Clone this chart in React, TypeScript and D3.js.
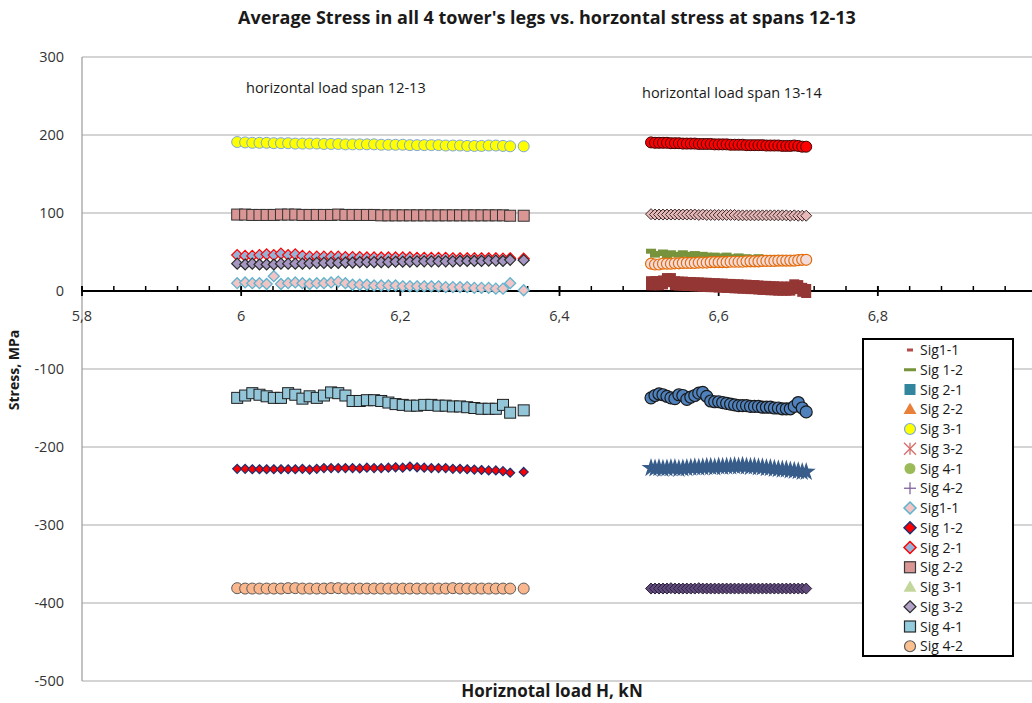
import React from "react";
import * as d3 from "d3";

// x values (horizontal load H, kN) for the two load cases
const xSpan1213 = [
  5.995, 6.005, 6.014, 6.023, 6.032, 6.041, 6.05, 6.059, 6.068, 6.077,
  6.086, 6.095, 6.104, 6.113, 6.122, 6.131, 6.14, 6.149, 6.158, 6.167,
  6.176, 6.185, 6.194, 6.203, 6.212, 6.221, 6.23, 6.239, 6.248, 6.257,
  6.266, 6.275, 6.284, 6.293, 6.302, 6.311, 6.32, 6.329, 6.338, 6.355,
];
const xSpan1314 = [
  6.515, 6.52, 6.525, 6.53, 6.535, 6.54, 6.545, 6.55, 6.555, 6.56,
  6.565, 6.57, 6.575, 6.58, 6.585, 6.59, 6.595, 6.6, 6.605, 6.61,
  6.615, 6.62, 6.625, 6.63, 6.635, 6.64, 6.645, 6.65, 6.655, 6.66,
  6.665, 6.67, 6.675, 6.68, 6.685, 6.69, 6.695, 6.7, 6.705, 6.71,
];

// span 12-13 series (MPa)
const leftCircles190 = [
  191, 190.5, 190, 190, 190, 189.5, 189.5, 189.5, 189, 189,
  189, 189, 188.5, 188.5, 188.5, 188, 188, 188, 188, 188,
  187.5, 187.5, 187.5, 187.5, 187, 187, 187, 187, 187, 186.5,
  186.5, 186.5, 186, 186, 186, 186.5, 186.5, 186, 185.5, 185.5,
];
const leftSquares98 = [
  98, 98, 97.5, 97.5, 97.5, 97.5, 98, 98, 98, 97.5,
  97.5, 97.5, 97.5, 97.5, 98, 97.5, 97.5, 97.5, 97.5, 97.5,
  97, 97, 97, 97, 97, 97, 97, 97, 97, 97,
  97, 97, 97, 97, 97, 97, 97, 97, 96.5, 96.5,
];
const leftDiamonds45 = [
  46, 45, 45, 46, 47, 46, 48, 46, 47, 45,
  44, 44, 44, 44, 44, 43.5, 43.5, 43.5, 43, 43,
  43, 43, 43, 43, 43, 42.5, 42.5, 42.5, 42.5, 42.5,
  42, 42, 42, 42, 42, 42, 42, 41.5, 42, 41.5,
];
const leftDiamonds37 = [
  35, 34, 35, 34, 34, 34, 35, 35, 35, 35,
  35.5, 36, 36, 36, 36, 36.5, 36.5, 37, 37, 37,
  37, 37, 37.5, 37.5, 37.5, 38, 38, 38, 38, 38,
  38, 38.5, 38.5, 38.5, 38.5, 39, 39, 38.5, 40, 39.5,
];
const leftDiamonds8 = [
  10, 11, 10, 10, 9, 19, 9, 10, 11, 10,
  9, 10, 10, 11, 12, 10, 8, 8, 8, 7,
  7, 7, 7, 6, 6, 6, 6, 6, 6, 5,
  5, 5, 5, 4, 4, 4, 3, 3, 10, 1,
];
const leftSquares140 = [
  -137, -134, -131, -133, -135, -137, -137, -131, -133, -138,
  -135, -137, -134, -130, -131, -134, -141, -141, -140, -140,
  -141, -143, -145, -146, -147, -147, -146, -146, -147, -147,
  -148, -148, -149, -150, -151, -151, -151, -146, -156, -153,
];
const leftDiamonds228 = [
  -228, -228, -228.5, -228.5, -228.5, -228.5, -228.5, -228.5, -228.5, -228,
  -229, -228, -227, -227, -227, -227, -227, -227.5, -226.5, -227,
  -227, -226.5, -226, -226.5, -225, -226, -226.5, -227, -227, -227,
  -228, -228, -228.5, -229, -229.5, -230, -230, -231, -233, -232,
];
const leftCircles381 = [
  -381, -381.5, -381.5, -381.5, -381.5, -381.5, -381.5, -381, -381, -381.5,
  -381.5, -381.5, -381.5, -381, -381, -381.5, -381.5, -381.5, -381.5, -381.5,
  -381.5, -381.5, -381.5, -381.5, -381.5, -381.5, -381.5, -381.5, -381.5, -381.5,
  -381, -381.5, -381.5, -381.5, -381.5, -381.5, -381.5, -381.5, -381.5, -381.5,
];

// span 13-14 series (MPa)
const rightCircles190 = [
  190.5, 190, 190, 190, 190, 189.5, 189.5, 189.5, 189, 189,
  189, 189, 188.5, 188.5, 188.5, 188.5, 188, 188, 188, 188,
  187.5, 187.5, 187.5, 187.5, 187, 187, 187, 187, 187, 186.5,
  186.5, 186.5, 186.5, 186, 186, 186, 186.5, 186, 185, 185,
];
const rightDiamonds98 = [
  98.5, 98, 98, 98, 98, 98, 98, 98, 98, 98,
  98, 98, 97.5, 98, 97.5, 97.5, 97.5, 97.5, 97.5, 97.5,
  97.5, 97.5, 97, 97, 97, 97, 97, 97, 97, 97,
  97, 97, 97, 97, 97, 96.5, 97, 96.5, 96.5, 96.5,
];
const rightDash45 = [
  51, 46, 48, 50, 45, 49, 47, 46, 49, 47,
  46, 48, 45, 47, 46, 44, 46, 45, 44, 46,
  44, 43, 45, 43, 44, 43, 42, 44, 42, 43,
  42, 43, 43, 42, 41, 42, 41, 42, 41, 40,
];
const rightCircles37 = [
  35, 34, 34, 35, 35, 35, 35.5, 35.5, 36, 36,
  36, 36, 36.5, 36.5, 36.5, 37, 37, 37, 37, 37,
  37.5, 37.5, 37.5, 37.5, 38, 38, 38, 38, 38.5, 38.5,
  38.5, 38.5, 39, 39, 39, 39, 39, 39.5, 40, 40,
];
const rightBars6 = [
  10, 10, 10, 11, 14, 14, 10, 9.5, 9.5, 9,
  9, 8.5, 8.5, 8, 8, 7.5, 7.5, 7, 7, 6.5,
  6.5, 6, 6, 5.5, 5.5, 5, 5, 4.5, 4, 4,
  3.5, 3.5, 3, 3, 3, 3, 6, 5, 1.5, 0,
];
const rightCircles145 = [
  -137, -134, -132, -133, -135, -137, -138, -133, -134, -139,
  -136, -134, -131, -130, -135, -141, -142, -142, -143, -144,
  -145, -146, -147, -147, -147, -148, -148, -148, -149, -149,
  -149, -150, -150, -151, -151, -151, -148, -143, -150, -155,
];
const rightStars228 = [
  -227, -227.5, -227, -228, -227.5, -227, -227, -228, -227.5, -227,
  -226.5, -226, -226.5, -226, -225.5, -225.5, -226, -225, -225.5, -225,
  -225, -224.5, -225, -224, -225, -225.5, -225, -226, -226, -227,
  -227, -228, -228.5, -229, -229, -230, -230.5, -231, -232, -232,
];
const rightDiamonds381 = [
  -381.5, -381.5, -381.5, -381.5, -381.5, -381, -381.5, -381.5, -381.5, -381.5,
  -381.5, -381.5, -381, -381.5, -381.5, -381.5, -381.5, -381.5, -381.5, -381.5,
  -381.5, -381.5, -381.5, -381.5, -381.5, -381.5, -381.5, -381.5, -381.5, -381.5,
  -381.5, -381.5, -381.5, -381.5, -381.5, -381.5, -381.5, -381.5, -381.5, -381.5,
];

const legendNames = [
  "Sig1-1", "Sig 1-2", "Sig 2-1", "Sig 2-2", "Sig 3-1", "Sig 3-2", "Sig 4-1", "Sig 4-2",
  "Sig1-1", "Sig 1-2", "Sig 2-1", "Sig 2-2", "Sig 3-1", "Sig 3-2", "Sig 4-1", "Sig 4-2",
];

const FONT = "'Open Sans', 'Noto Sans', sans-serif";

type Style = {
  type: string;
  size: number;
  fill: string;
  stroke?: string;
  sw?: number;
  h?: number;
};

// marker looks
const legendStyles: Style[] = [
  { type: "dash", size: 6, h: 3, fill: "#b54a48" },
  { type: "dash", size: 12, h: 3, fill: "#77933c" },
  { type: "square", size: 11, fill: "#31859c" },
  { type: "triangle", size: 12, fill: "#e8803a" },
  { type: "circle", size: 11, fill: "#ffff00", stroke: "#7da7d9", sw: 1.2 },
  { type: "asterisk", size: 12, fill: "none", stroke: "#d46a68", sw: 1.3 },
  { type: "circle", size: 11, fill: "#9bbb59" },
  { type: "plus", size: 12, fill: "none", stroke: "#8064a2", sw: 1.3 },
  { type: "diamond", size: 12, fill: "#f2c4c4", stroke: "#5fb3cf", sw: 1.5 },
  { type: "diamond", size: 12, fill: "#ff0000", stroke: "#1f2f6e", sw: 1.5 },
  { type: "diamond", size: 12, fill: "#95b3d7", stroke: "#ff0000", sw: 1.5 },
  { type: "square", size: 11, fill: "#d99694", stroke: "#3a3a3a", sw: 1.2 },
  { type: "triangle", size: 12, fill: "#c3d69b" },
  { type: "diamond", size: 12, fill: "#b3a2c7", stroke: "#2b2b2b", sw: 1.2 },
  { type: "square", size: 11, fill: "#93cddd", stroke: "#2b2b2b", sw: 1.2 },
  { type: "circle", size: 11, fill: "#fac090", stroke: "#595959", sw: 1.2 },
];

type Series = { xs: number[]; ys: number[]; style: Style };

const plotted: Series[] = [
  { xs: xSpan1213, ys: leftDiamonds8, style: { type: "diamond", size: 11, fill: "#f2c4c4", stroke: "#5fb3cf", sw: 1.3 } },
  { xs: xSpan1213, ys: leftDiamonds228, style: { type: "diamond", size: 9, fill: "#ff0000", stroke: "#1f2f6e", sw: 1.2 } },
  { xs: xSpan1213, ys: leftDiamonds45, style: { type: "diamond", size: 11, fill: "#95b3d7", stroke: "#ff0000", sw: 1.2 } },
  { xs: xSpan1213, ys: leftSquares98, style: { type: "square", size: 11, fill: "#d99694", stroke: "#333333", sw: 1 } },
  { xs: xSpan1213, ys: leftDiamonds37, style: { type: "diamond", size: 11, fill: "#a597c2", stroke: "#2b2b2b", sw: 1.2 } },
  { xs: xSpan1213, ys: leftSquares140, style: { type: "square", size: 11, fill: "#93c5d8", stroke: "#1f1f1f", sw: 1 } },
  { xs: xSpan1213, ys: leftCircles381, style: { type: "circle", size: 11, fill: "#fab68c", stroke: "#595959", sw: 1 } },
  { xs: xSpan1213, ys: leftCircles190, style: { type: "circle", size: 11, fill: "#ffff00", stroke: "#7da7d9", sw: 1 } },
  { xs: xSpan1314, ys: rightBars6, style: { type: "dash", size: 10, h: 14, fill: "#943634" } },
  { xs: xSpan1314, ys: rightDash45, style: { type: "dash", size: 10, h: 5, fill: "#77933c" } },
  { xs: xSpan1314, ys: rightCircles37, style: { type: "circle", size: 11, fill: "#f2dcdb", stroke: "#e46c0a", sw: 1.2 } },
  { xs: xSpan1314, ys: rightDiamonds98, style: { type: "diamond", size: 11, fill: "#e6b9b8", stroke: "#3d2b2b", sw: 1 } },
  { xs: xSpan1314, ys: rightCircles190, style: { type: "circle", size: 11, fill: "#ff0000", stroke: "#400000", sw: 1 } },
  { xs: xSpan1314, ys: rightCircles145, style: { type: "circle", size: 12, fill: "#4f81bd", stroke: "#1a1a1a", sw: 1.2 } },
  { xs: xSpan1314, ys: rightStars228, style: { type: "star", size: 12, fill: "#385d8a", stroke: "#385d8a", sw: 1.5 } },
  { xs: xSpan1314, ys: rightDiamonds381, style: { type: "diamond", size: 11, fill: "#604a7b", stroke: "#2a1f38", sw: 1 } },
];

function Marker({ x, y, s }: { x: number; y: number; s: Style }) {
  const h = s.size / 2;
  const common = { fill: s.fill, stroke: s.stroke || "none", strokeWidth: s.sw || 0 };
  switch (s.type) {
    case "circle":
      return <circle cx={x} cy={y} r={h} {...common} />;
    case "square":
      return <rect x={x - h} y={y - h} width={s.size} height={s.size} {...common} />;
    case "diamond":
      return <path d={`M${x},${y - h}L${x + h},${y}L${x},${y + h}L${x - h},${y}Z`} {...common} />;
    case "dash":
      return <rect x={x - h} y={y - (s.h || 3) / 2} width={s.size} height={s.h || 3} {...common} />;
    case "triangle":
      return (
        <path
          transform={`translate(${x},${y + 1})`}
          d={d3.symbol(d3.symbolTriangle, s.size * s.size * 0.5)() || ""}
          {...common}
        />
      );
    case "star":
      return (
        <path
          transform={`translate(${x},${y})`}
          d={d3.symbol(d3.symbolStar, s.size * s.size * 0.45)() || ""}
          {...common}
        />
      );
    case "plus":
      return (
        <g stroke={s.stroke} strokeWidth={s.sw}>
          <line x1={x - h} x2={x + h} y1={y} y2={y} />
          <line x1={x} x2={x} y1={y - h} y2={y + h} />
        </g>
      );
    case "asterisk":
      return (
        <g stroke={s.stroke} strokeWidth={s.sw}>
          <line x1={x - h} x2={x + h} y1={y - h} y2={y + h} />
          <line x1={x - h} x2={x + h} y1={y + h} y2={y - h} />
          <line x1={x} x2={x} y1={y - h} y2={y + h} />
        </g>
      );
    default:
      return null;
  }
}

export default function App() {
  const width = 1032;
  const height = 703;

  const x = d3.scaleLinear().domain([5.8, 7.0]).range([82, 1037]);
  const y = d3.scaleLinear().domain([-500, 300]).range([681, 57]);

  const locale = d3.formatLocale({ decimal: ",", thousands: " ", grouping: [3], currency: ["", ""] });
  const fmtX = locale.format("~g");

  const yTicks = y.ticks(8);
  const xMajor = x.ticks(6).filter((t) => t < 6.99);
  const xMinor = d3.range(0, 30).map((i) => 5.8 + i * 0.04);
  const y0 = y(0);

  return (
    <svg
      width={width}
      height={height}
      style={{ position: "absolute", left: 0, top: 0, background: "#ffffff" }}
      fontFamily={FONT}
    >
      <rect width={width} height={height} fill="#ffffff" />
      <text x={547} y={24} textAnchor="middle" fontSize={18} fontWeight="bold" fill="#1a1a1a">
        Average Stress in all 4 tower's legs vs. horzontal stress at spans 12-13
      </text>

      {/* grid */}
      {yTicks
        .filter((t) => t !== 0)
        .map((t) => (
          <line key={t} x1={82} x2={width} y1={y(t)} y2={y(t)} stroke="#aaaaaa" strokeWidth={1.2} />
        ))}
      <line x1={82} x2={82} y1={y(300)} y2={y(-500)} stroke="#9a9a9a" strokeWidth={1.2} />

      {/* y labels */}
      {yTicks.map((t) => (
        <text key={t} x={64} y={y(t) + 5} textAnchor="end" fontSize={14.5} fill="#333333">
          {t}
        </text>
      ))}

      {/* x axis at zero */}
      <line x1={82} x2={width} y1={y0} y2={y0} stroke="#000000" strokeWidth={2} />
      {xMinor.map((t, i) => (
        <line key={i} x1={x(t)} x2={x(t)} y1={y0} y2={y0 - 5} stroke="#000000" strokeWidth={1.5} />
      ))}
      {xMajor.map((t) => (
        <g key={t}>
          <line x1={x(t)} x2={x(t)} y1={y0 - 5} y2={y0 + 5} stroke="#000000" strokeWidth={1.8} />
          <text x={x(t)} y={y0 + 30} textAnchor="middle" fontSize={14.5} fill="#333333">
            {fmtX(t)}
          </text>
        </g>
      ))}

      {/* markers */}
      {plotted.map((ser, si) => (
        <g key={si}>
          {ser.ys.map((v, i) => (
            <Marker key={i} x={x(ser.xs[i])} y={y(v)} s={ser.style} />
          ))}
        </g>
      ))}

      <text x={246} y={93} fontSize={14.5} fill="#1a1a1a">
        horizontal load span 12-13
      </text>
      <text x={642} y={98} fontSize={14.5} fill="#1a1a1a">
        horizontal load span 13-14
      </text>

      <text
        transform={`translate(19,${y(-100) + 1}) rotate(-90)`}
        textAnchor="middle"
        fontSize={14}
        fontWeight="bold"
        fill="#1a1a1a"
      >
        Stress, MPa
      </text>
      <text x={552} y={697} textAnchor="middle" fontSize={17} fontWeight="bold" fill="#1a1a1a">
        Horiznotal load H, kN
      </text>

      {/* legend */}
      <rect x={863} y={339} width={150} height={317} fill="#ffffff" stroke="#000000" strokeWidth={2} />
      {legendNames.map((name, i) => {
        const cy = 350 + i * 19.75;
        return (
          <g key={i}>
            <Marker x={910} y={cy} s={legendStyles[i]} />
            <text x={920} y={cy + 5} fontSize={14} fill="#1a1a1a">
              {name}
            </text>
          </g>
        );
      })}
    </svg>
  );
}
